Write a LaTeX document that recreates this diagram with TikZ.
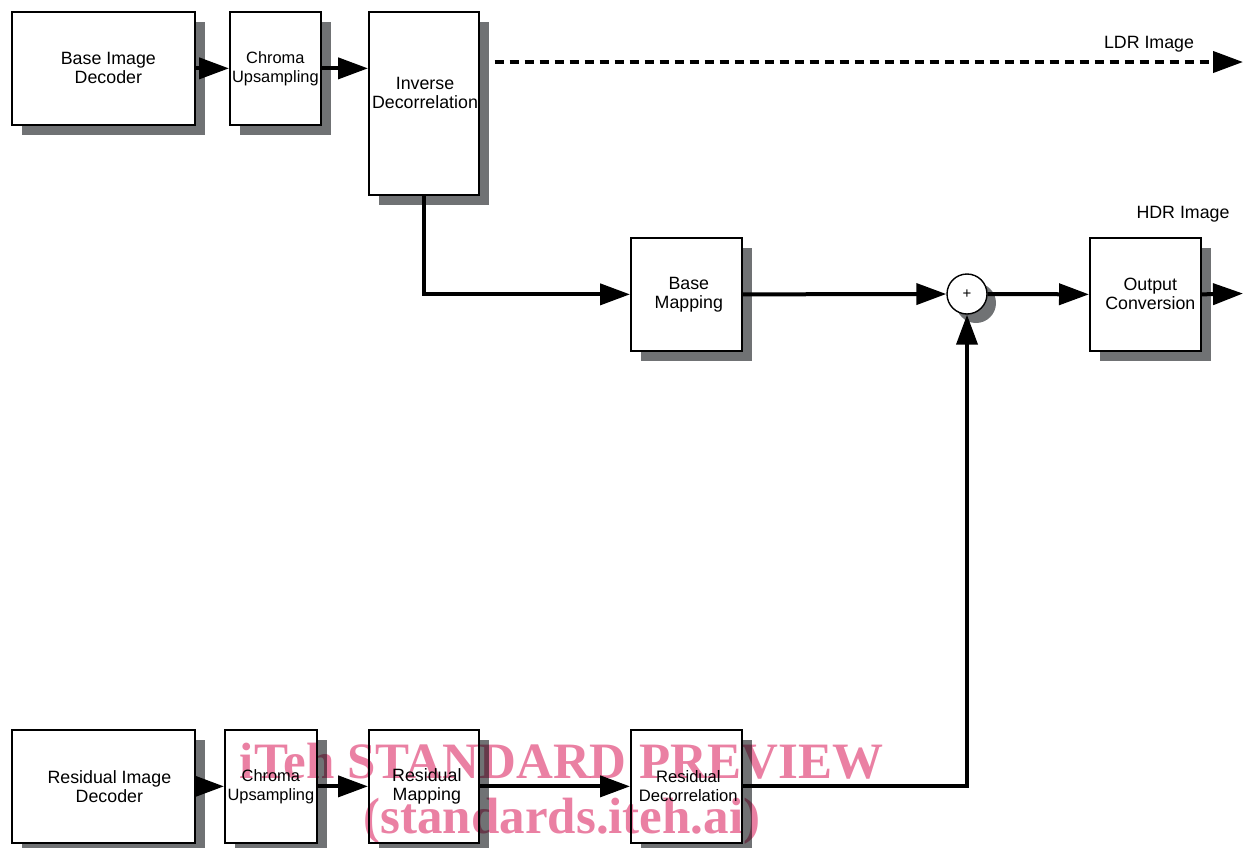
\documentclass[tikz,border=0pt]{standalone}
\usepackage{fontspec}
\setmainfont{Liberation Sans}
\newfontfamily\wmfont{Liberation Serif}
\usetikzlibrary{arrows.meta,shadows,calc}
\definecolor{shadowgray}{RGB}{112,114,116}
\definecolor{wmpink}{RGB}{234,128,163}
\tikzset{
  blk/.style={draw=black, line width=1.7pt, fill=white, inner sep=0pt, anchor=north west,
    align=center, font=\fontsize{17.8}{19}\selectfont,
    drop shadow={shadow xshift=10pt, shadow yshift=-10pt, fill=shadowgray, opacity=1}},
  chroma/.style={font=\fontsize{16.4}{19}\selectfont},
  sumnode/.style={circle, draw=black, line width=1.4pt, fill=white, minimum size=40pt, inner sep=0pt,
    font=\fontsize{15}{15}\selectfont,
    drop shadow={shadow xshift=9pt, shadow yshift=-9pt, fill=shadowgray, opacity=1}},
  flow/.style={line width=4pt, -{Triangle[length=30pt,width=21pt]}},
  dflow/.style={line width=4pt, dash pattern=on 9pt off 6pt, -{Triangle[length=30pt,width=21pt]}},
  lbl/.style={font=\fontsize{17.8}{19}\selectfont, inner sep=0pt},
  wm/.style={font=\wmfont\bfseries\fontsize{51}{51}\selectfont, text=wmpink, anchor=base, inner sep=0pt}
}
\begin{document}
\begin{tikzpicture}[x=1pt,y=-1pt]
\useasboundingbox (0,0) rectangle (1249,847);
% top row
\node[blk, minimum width=183pt, minimum height=113pt] (BID) at (11,11) {\hspace*{10pt}Base Image\\\hspace*{10pt}Decoder};
\node[blk, chroma, minimum width=91pt, minimum height=113pt] (CU1) at (229,11) {Chroma\\Upsampling};
\node[blk, minimum width=110pt, minimum height=183pt] (ID) at (368,11) {};
\node[lbl, align=center] (IDt) at (425,93) {Inverse\\Decorrelation};
\node[blk, minimum width=111pt, minimum height=113pt] (BM) at (630,237) {\hspace*{5pt}Base\\\hspace*{5pt}Mapping};
\node[blk, minimum width=111pt, minimum height=113pt] (OC) at (1089,237) {\hspace*{10pt}Output\\\hspace*{10pt}Conversion};
\node[sumnode] (S) at (967,294) {+};
% bottom row
\node[blk, minimum width=183pt, minimum height=113pt] (RID) at (11,729) {\hspace*{12pt}Residual Image\\\hspace*{12pt}Decoder};
\node[blk, chroma, minimum width=92pt, minimum height=113pt] (CU2) at (224,729) {Chroma\\Upsampling};
\node[blk, minimum width=110pt, minimum height=113pt] (RM) at (368,729) {\hspace*{6pt}Residual\\\hspace*{6pt}Mapping};
\node[blk, minimum width=111pt, minimum height=113pt, font=\fontsize{16.6}{19}\selectfont] (RD) at (630,729) {\hspace*{4pt}Residual\\\hspace*{4pt}Decorrelation};
% labels
\node[lbl] (LDR) at (1149,44) {LDR Image};
\node[lbl] (HDR) at (1183,214) {HDR Image};
\coordinate (ldrend) at (1243,62);
\coordinate (hdrend) at (1243,293.5);
% connectors
\draw[flow] (BID.east) -- (CU1.west);
\draw[flow] (CU1.east) -- (CU1.east -| ID.west);
\draw[dflow] ([xshift=15pt]ID.east |- ldrend) -- (ldrend);
\draw[flow] (ID.south) |- (BM.west);
\draw[flow] (BM.east) -- (S.west);
\draw[flow] (S.east) -- (OC.west);
\draw[flow] (OC.east) -- (hdrend);
\draw[flow] (RID.east) -- (CU2.west);
\draw[flow] (CU2.east) -- (RM.west);
\draw[flow] (RM.east) -- (RD.west);
\draw[flow] (RD.east) -| (S.south);
% watermark
\begin{scope}[blend mode=multiply]
\node[wm] (wm1) at (561.5,778) {iTeh STANDARD PREVIEW};
\node[wm] (wm2) at (562,833) {(standards.iteh.ai)};
\end{scope}
\end{tikzpicture}
\end{document}
